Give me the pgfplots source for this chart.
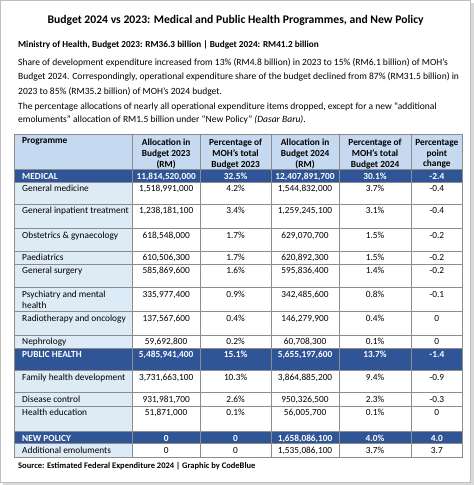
\documentclass[border=0pt]{standalone}
\usepackage{pgfplots}
\pgfplotsset{compat=1.18}
\usepackage{fontspec}
\setmainfont{Carlito}
\definecolor{hdr}{HTML}{C5D9F1}
\definecolor{dark}{HTML}{2F5597}
\definecolor{pale}{HTML}{DDEBF7}
\definecolor{gridc}{HTML}{8C8C8C}
\definecolor{frame}{HTML}{BFBFBF}
\newcommand{\tf}{\fontsize{9.2}{10.5}\selectfont}
\newcommand{\bodyf}{\fontsize{9.4}{11}\selectfont}
% normal row: top, bottom, name, v1..v5
\newcommand{\trow}[8]{%
 \fill[pale] (axis cs:17,#1) rectangle (axis cs:133,#2);
 \node[anchor=base west,font=\tf] at (axis cs:21,#1+9.6) {#3};
 \node[anchor=base,font=\tf] at (axis cs:166.5,#1+9.6) {#4};
 \node[anchor=base,font=\tf] at (axis cs:235,#1+9.6) {#5};
 \node[anchor=base,font=\tf] at (axis cs:303.5,#1+9.6) {#6};
 \node[anchor=base,font=\tf] at (axis cs:372.5,#1+9.6) {#7};
 \node[anchor=base,font=\tf] at (axis cs:433.5,#1+9.6) {#8};
}
\newcommand{\drow}[8]{%
 \fill[dark] (axis cs:17,#1) rectangle (axis cs:459,#2);
 \node[anchor=base west,font=\tf\bfseries,text=white] at (axis cs:21,#1+9.6) {#3};
 \node[anchor=base,font=\tf\bfseries,text=white] at (axis cs:166.5,#1+9.6) {#4};
 \node[anchor=base,font=\tf\bfseries,text=white] at (axis cs:235,#1+9.6) {#5};
 \node[anchor=base,font=\tf\bfseries,text=white] at (axis cs:303.5,#1+9.6) {#6};
 \node[anchor=base,font=\tf\bfseries,text=white] at (axis cs:372.5,#1+9.6) {#7};
 \node[anchor=base,font=\tf\bfseries,text=white] at (axis cs:433.5,#1+9.6) {#8};
}
\newcommand{\hl}[1]{\draw[gridc,line width=0.6pt] (axis cs:17,#1) -- (axis cs:459,#1);}
\newcommand{\vl}[1]{\draw[gridc,line width=0.6pt] (axis cs:#1,135) -- (axis cs:#1,454);}
\begin{document}
\begin{tikzpicture}
\begin{axis}[width=474pt,height=485pt,scale only axis,
  xmin=0,xmax=474,ymin=0,ymax=485,y dir=reverse,hide axis,clip=false]
% frame with shadow
\fill[black!15] (axis cs:6,6) rectangle (axis cs:470,481);
\fill[white,draw=frame,line width=0.8pt] (axis cs:3,3) rectangle (axis cs:467,478);
% title and text
\node[anchor=base,font=\fontsize{11.5}{13}\selectfont\bfseries] at (axis cs:235,26) {Budget 2024 vs 2023: Medical and Public Health Programmes, and New Policy};
\node[anchor=base west,font=\fontsize{9.1}{10}\selectfont\bfseries] at (axis cs:17,49) {Ministry of Health, Budget 2023: RM36.3 billion | Budget 2024: RM41.2 billion};
\node[anchor=base west,font=\bodyf] at (axis cs:17,67) {Share of development expenditure increased from 13\% (RM4.8 billion) in 2023 to 15\% (RM6.1 billion) of MOH’s};
\node[anchor=base west,font=\bodyf] at (axis cs:17,81.5) {Budget 2024. Correspondingly, operational expenditure share of the budget declined from 87\% (RM31.5 billion) in};
\node[anchor=base west,font=\bodyf] at (axis cs:17,96) {2023 to 85\% (RM35.2 billion) of MOH’s 2024 budget.};
\node[anchor=base west,font=\bodyf] at (axis cs:17,110.5) {The percentage allocations of nearly all operational expenditure items dropped, except for a new “additional};
\node[anchor=base west,font=\bodyf] at (axis cs:17,123.5) {emoluments” allocation of RM1.5 billion under “New Policy” \textit{(Dasar Baru)}.};
% header
\fill[hdr] (axis cs:17,135) rectangle (axis cs:459,170);
\node[anchor=base west,font=\tf\bfseries] at (axis cs:21,144.5) {Programme};
\node[anchor=north,font=\tf\bfseries,align=center] at (axis cs:166.5,136.5) {Allocation in\\Budget 2023\\(RM)};
\node[anchor=north,font=\tf\bfseries,align=center] at (axis cs:235,136.5) {Percentage of\\MOH’s total\\Budget 2023};
\node[anchor=north,font=\tf\bfseries,align=center] at (axis cs:303.5,136.5) {Allocation in\\Budget 2024\\(RM)};
\node[anchor=north,font=\tf\bfseries,align=center] at (axis cs:372.5,136.5) {Percentage of\\MOH’s total\\Budget 2024};
\node[anchor=north,font=\tf\bfseries,align=center] at (axis cs:433.5,136.5) {Percentage\\point\\change};
% rows
\drow{170}{182}{MEDICAL}{11,814,520,000}{32.5\%}{12,407,891,700}{30.1\%}{-2.4}
\trow{182}{204}{General medicine}{1,518,991,000}{4.2\%}{1,544,832,000}{3.7\%}{-0.4}
\trow{204}{228}{General inpatient treatment}{1,238,181,100}{3.4\%}{1,259,245,100}{3.1\%}{-0.4}
\trow{228}{250}{Obstetrics \& gynaecology}{618,548,000}{1.7\%}{629,070,700}{1.5\%}{-0.2}
\trow{250}{263}{Paediatrics}{610,506,300}{1.7\%}{620,892,300}{1.5\%}{-0.2}
\trow{263}{286}{General surgery}{585,869,600}{1.6\%}{595,836,400}{1.4\%}{-0.2}
\trow{286}{310}{Psychiatry and mental}{335,977,400}{0.9\%}{342,485,600}{0.8\%}{-0.1}
\node[anchor=base west,font=\tf] at (axis cs:21,306.5) {health};
\trow{310}{333}{Radiotherapy and oncology}{137,567,600}{0.4\%}{146,279,900}{0.4\%}{0}
\trow{333}{346}{Nephrology}{59,692,800}{0.2\%}{60,708,300}{0.1\%}{0}
\drow{346}{368}{PUBLIC HEALTH}{5,485,941,400}{15.1\%}{5,655,197,600}{13.7\%}{-1.4}
\trow{368}{390}{Family health development}{3,731,663,100}{10.3\%}{3,864,885,200}{9.4\%}{-0.9}
\trow{390}{403}{Disease control}{931,981,700}{2.6\%}{950,326,500}{2.3\%}{-0.3}
\trow{403}{428}{Health education}{51,871,000}{0.1\%}{56,005,700}{0.1\%}{0}
\drow{428}{440}{NEW POLICY}{0}{0}{1,658,086,100}{4.0\%}{4.0}
\trow{440}{454}{Additional emoluments}{0}{0}{1,535,086,100}{3.7\%}{3.7}
% grid
\hl{135}\hl{170}\hl{182}\hl{204}\hl{228}\hl{250}\hl{263}\hl{286}\hl{310}\hl{333}\hl{346}\hl{368}\hl{390}\hl{403}\hl{428}\hl{440}\hl{454}
\vl{17}\vl{133}\vl{200}\vl{270}\vl{337}\vl{408}\vl{459}
% source
\node[anchor=base west,font=\fontsize{8.4}{9.5}\selectfont\bfseries] at (axis cs:17,465) {Source: Estimated Federal Expenditure 2024 | Graphic by CodeBlue};
\end{axis}
\end{tikzpicture}
\end{document}
